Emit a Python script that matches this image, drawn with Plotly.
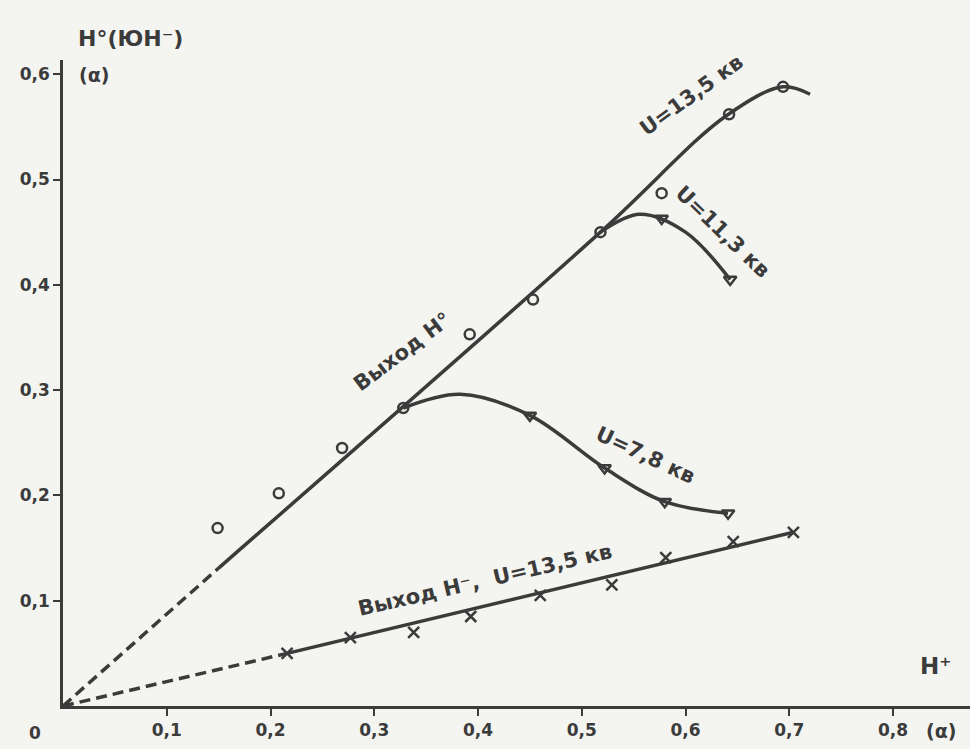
import plotly.graph_objects as go

# ---- data ----
# Н° yield, U = 13.5 kV : measured points (circles)
h0_x = [0.149, 0.208, 0.269, 0.328, 0.392, 0.453, 0.518, 0.577, 0.642, 0.694]
h0_y = [0.169, 0.202, 0.245, 0.283, 0.353, 0.386, 0.450, 0.487, 0.562, 0.588]
# Н° fitted curve (solid part) and dashed extrapolation to origin
h0_fit_x = [0.150, 0.518, 0.640, 0.694, 0.720]
h0_fit_y = [0.131, 0.450, 0.561, 0.588, 0.581]
h0_ext_x = [0.0, 0.150]
h0_ext_y = [0.0, 0.131]

# U = 11.3 kV curve (triangles)
u113_curve_x = [0.518, 0.556, 0.600, 0.643]
u113_curve_y = [0.450, 0.467, 0.450, 0.405]
u113_pts_x = [0.577, 0.643]
u113_pts_y = [0.463, 0.405]

# U = 7.8 kV curve (triangles)
u78_curve_x = [0.328, 0.383, 0.450, 0.522, 0.580, 0.641]
u78_curve_y = [0.283, 0.296, 0.276, 0.226, 0.194, 0.183]
u78_pts_x = [0.450, 0.522, 0.580, 0.641]
u78_pts_y = [0.276, 0.226, 0.194, 0.183]

# Н⁻ yield, U = 13.5 kV (crosses)
hm_x = [0.216, 0.277, 0.338, 0.393, 0.460, 0.529, 0.581, 0.646, 0.704]
hm_y = [0.050, 0.065, 0.070, 0.085, 0.105, 0.115, 0.141, 0.156, 0.165]
hm_fit_x = [0.216, 0.704]
hm_fit_y = [0.050, 0.165]
hm_ext_x = [0.0, 0.216]
hm_ext_y = [0.0, 0.050]

x_ticks = [0.1, 0.2, 0.3, 0.4, 0.5, 0.6, 0.7, 0.8]
x_tick_labels = ["0,1", "0,2", "0,3", "0,4", "0,5", "0,6", "0,7", "0,8"]
y_ticks = [0.1, 0.2, 0.3, 0.4, 0.5, 0.6]
y_tick_labels = ["0,1", "0,2", "0,3", "0,4", "0,5", "0,6"]

INK = "#3b3b3b"
BG = "#f4f4f1"
FONT = "DejaVu Sans"

fig = go.Figure()

def line(x, y, dash="solid", shape="linear", width=3.5):
    fig.add_trace(go.Scatter(x=x, y=y, mode="lines",
                             line=dict(color=INK, width=width, dash=dash, shape=shape, smoothing=1.0),
                             hoverinfo="skip", showlegend=False))

def pts(x, y, symbol, size=9, lw=2):
    fig.add_trace(go.Scatter(x=x, y=y, mode="markers",
                             marker=dict(symbol=symbol, size=size, color=INK,
                                         line=dict(color=INK, width=lw)),
                             showlegend=False))

line(h0_ext_x, h0_ext_y, dash="11px,6px")
line(h0_fit_x, h0_fit_y, shape="spline")
line(u113_curve_x, u113_curve_y, shape="spline")
line(u78_curve_x, u78_curve_y, shape="spline")
line(hm_ext_x, hm_ext_y, dash="11px,6px")
line(hm_fit_x, hm_fit_y)

pts(h0_x, h0_y, "circle-open", size=10, lw=2.5)
pts(u113_pts_x, u113_pts_y, "triangle-down-open", size=11, lw=2.5)
pts(u78_pts_x, u78_pts_y, "triangle-down-open", size=11, lw=2.5)
pts(hm_x, hm_y, "x-thin-open", size=11, lw=2.5)

def label(text, x, y, angle, size=21, ref="data"):
    kw = dict(xref="x", yref="y") if ref == "data" else dict(xref="paper", yref="paper")
    fig.add_annotation(text=text, x=x, y=y, textangle=angle, showarrow=False,
                       xanchor="center", yanchor="middle",
                       font=dict(family=FONT, size=size, color=INK, weight="bold"), **kw)

label("U=13,5 кв", 0.606, 0.580, -36)
label("U=11,3 кв", 0.636, 0.450, 44)
label("Выход Н°", 0.327, 0.336, -37)
label("U=7,8 кв", 0.561, 0.238, 25)
label("Выход Н⁻,  U=13,5 кв", 0.407, 0.120, -13)

label("Н°(ЮН⁻)", 0.074, 1.034, 0, size=22, ref="paper")
label("(α)", 0.034, 0.977, 0, size=19, ref="paper")
label("Н⁺", 0.962, 0.062, 0, size=23, ref="paper")
label("(α)", 0.968, -0.038, 0, size=19, ref="paper")
label("0", -0.031, -0.042, 0, size=17, ref="paper")

fig.update_layout(
    width=970, height=749,
    margin=dict(l=63, r=0, t=60, b=43),
    paper_bgcolor=BG, plot_bgcolor=BG,
    font=dict(family=FONT, color=INK),
    xaxis=dict(range=[0, 0.8742], showgrid=False, zeroline=False,
               showline=True, linecolor=INK, linewidth=2.5,
               tickvals=x_ticks, ticktext=x_tick_labels, ticks="outside",
               ticklen=7, tickwidth=2, tickcolor=INK,
               tickfont=dict(family=FONT, size=17, color=INK, weight="bold")),
    yaxis=dict(range=[0, 0.6135], showgrid=False, zeroline=False,
               showline=True, linecolor=INK, linewidth=2.5,
               tickvals=y_ticks, ticktext=y_tick_labels, ticks="outside",
               ticklen=7, tickwidth=2, tickcolor=INK,
               tickfont=dict(family=FONT, size=17, color=INK, weight="bold")),
)

fig.write_html("out.html", config={"displayModeBar": False},
               post_script="document.body.style.margin='0';document.body.style.background='%s';" % BG)
